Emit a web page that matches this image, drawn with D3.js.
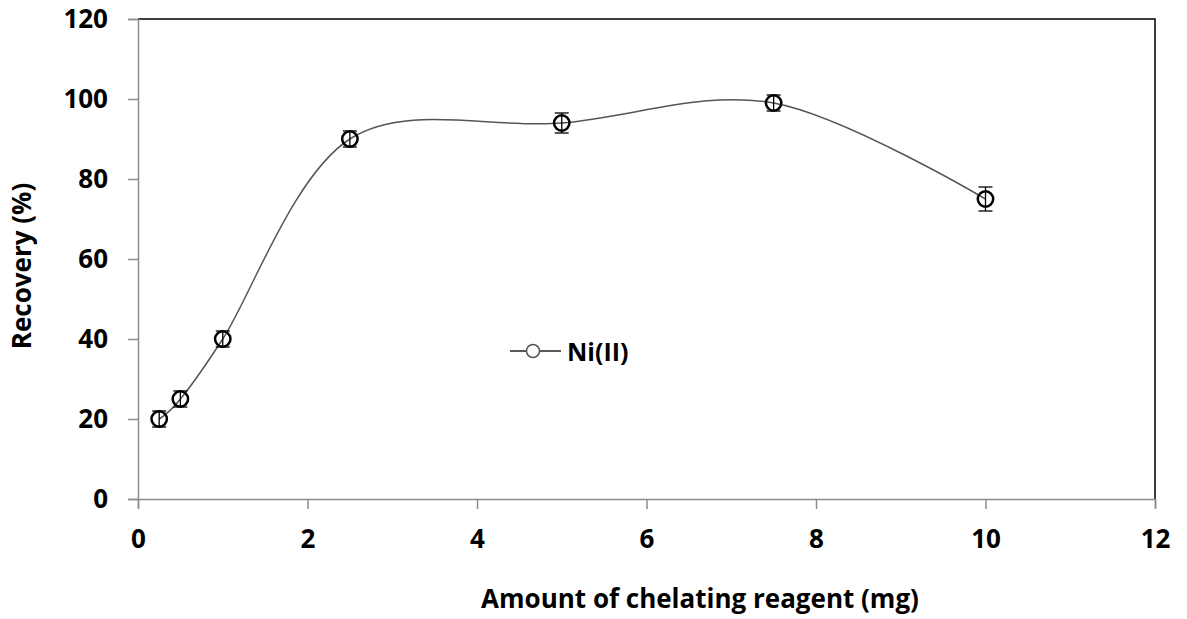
<!DOCTYPE html>
<html>
<head>
<meta charset="utf-8">
<script src="https://cdn.jsdelivr.net/npm/d3@7"></script>
<style>
  body { margin: 0; background: #fff; }
  text { font-family: "Open Sans", "Noto Sans", sans-serif; font-weight: bold; fill: #000; }
</style>
</head>
<body>
<script>
let amounts = [0.25, 0.5, 1, 2.5, 5, 7.5, 10];
let recovery = [20, 25, 40, 90, 94, 99, 75];
let errors = [2, 2, 2, 2, 2.5, 2, 3];
let xTicks = [0, 2, 4, 6, 8, 10, 12];
let yTicks = [0, 20, 40, 60, 80, 100, 120];
let seriesName = 'Ni(II)';

let width = 1187;
let height = 619;
let pLeft = 138, pRight = 1155, pTop = 19, pBottom = 499;

let svg = d3.select('body').append('svg')
            .attr('width', width)
            .attr('height', height)

let x = d3.scaleLinear().domain([0, 12]).range([pLeft, pRight]);
let y = d3.scaleLinear().domain([0, 120]).range([pBottom, pTop]);

let data = amounts.map((a, i) => ({x: a, y: recovery[i], e: errors[i]}));

// frame: top and right black
svg.append('path')
   .attr('d', `M${pLeft},${pTop}H${pRight}V${pBottom}`)
   .attr('fill', 'none')
   .attr('stroke', '#000')
   .attr('stroke-width', 1.5)

let xAxis = svg.append('g')
               .attr('transform', `translate(0,${pBottom})`)
               .call(d3.axisBottom(x).tickValues(xTicks).tickSize(10).tickPadding(21).tickFormat(d3.format('d')))
let yAxis = svg.append('g')
               .attr('transform', `translate(${pLeft},0)`)
               .call(d3.axisLeft(y).tickValues(yTicks).tickSize(10).tickPadding(20).tickFormat(d3.format('d')))

for (let ax of [xAxis, yAxis]) {
    ax.select('.domain').attr('stroke', '#8c8c8c').attr('stroke-width', 1.5);
    ax.selectAll('.tick line').attr('stroke', '#8c8c8c').attr('stroke-width', 1.5);
    ax.selectAll('.tick text').attr('font-size', '26px').attr('font-family', '"Open Sans", sans-serif').attr('font-weight', 'bold').attr('fill', '#000');
}

let line = d3.line()
             .x(d => x(d.x))
             .y(d => y(d.y))
             .curve(d3.curveCardinal.tension(0))

svg.append('path')
   .datum(data)
   .attr('d', line)
   .attr('fill', 'none')
   .attr('stroke', '#555')
   .attr('stroke-width', 1.5)

// error bars
let eb = svg.selectAll('g.err').data(data).enter().append('g').attr('class', 'err');
eb.append('line')
  .attr('x1', d => x(d.x)).attr('x2', d => x(d.x))
  .attr('y1', d => y(d.y - d.e)).attr('y2', d => y(d.y + d.e))
  .attr('stroke', '#000').attr('stroke-width', 1.3)
eb.append('line')
  .attr('x1', d => x(d.x) - 7).attr('x2', d => x(d.x) + 7)
  .attr('y1', d => y(d.y + d.e)).attr('y2', d => y(d.y + d.e))
  .attr('stroke', '#000').attr('stroke-width', 1.3)
eb.append('line')
  .attr('x1', d => x(d.x) - 7).attr('x2', d => x(d.x) + 7)
  .attr('y1', d => y(d.y - d.e)).attr('y2', d => y(d.y - d.e))
  .attr('stroke', '#000').attr('stroke-width', 1.3)

svg.selectAll('circle.pt').data(data)
   .enter()
   .append('circle')
   .attr('class', 'pt')
   .attr('cx', d => x(d.x))
   .attr('cy', d => y(d.y))
   .attr('r', 7.7)
   .attr('fill', 'none')
   .attr('stroke', '#000')
   .attr('stroke-width', 2.5)

// legend
let lg = svg.append('g').attr('transform', 'translate(510,351)');
lg.append('line').attr('x1', 0).attr('x2', 51).attr('y1', 0).attr('y2', 0)
  .attr('stroke', '#222').attr('stroke-width', 1.5)
lg.append('circle').attr('cx', 23).attr('cy', 0).attr('r', 6.5)
  .attr('fill', '#fff').attr('stroke', '#555').attr('stroke-width', 1.5)
lg.append('text').attr('x', 57).attr('y', 10).attr('font-size', '25px').text(seriesName)

svg.append('text')
   .attr('x', 700)
   .attr('y', 608)
   .attr('text-anchor', 'middle')
   .attr('font-size', '26px')
   .text('Amount of chelating reagent (mg)')

svg.append('text')
   .attr('transform', 'translate(31,266) rotate(-90)')
   .attr('text-anchor', 'middle')
   .attr('font-size', '26px')
   .text('Recovery (%)')
</script>
</body>
</html>
